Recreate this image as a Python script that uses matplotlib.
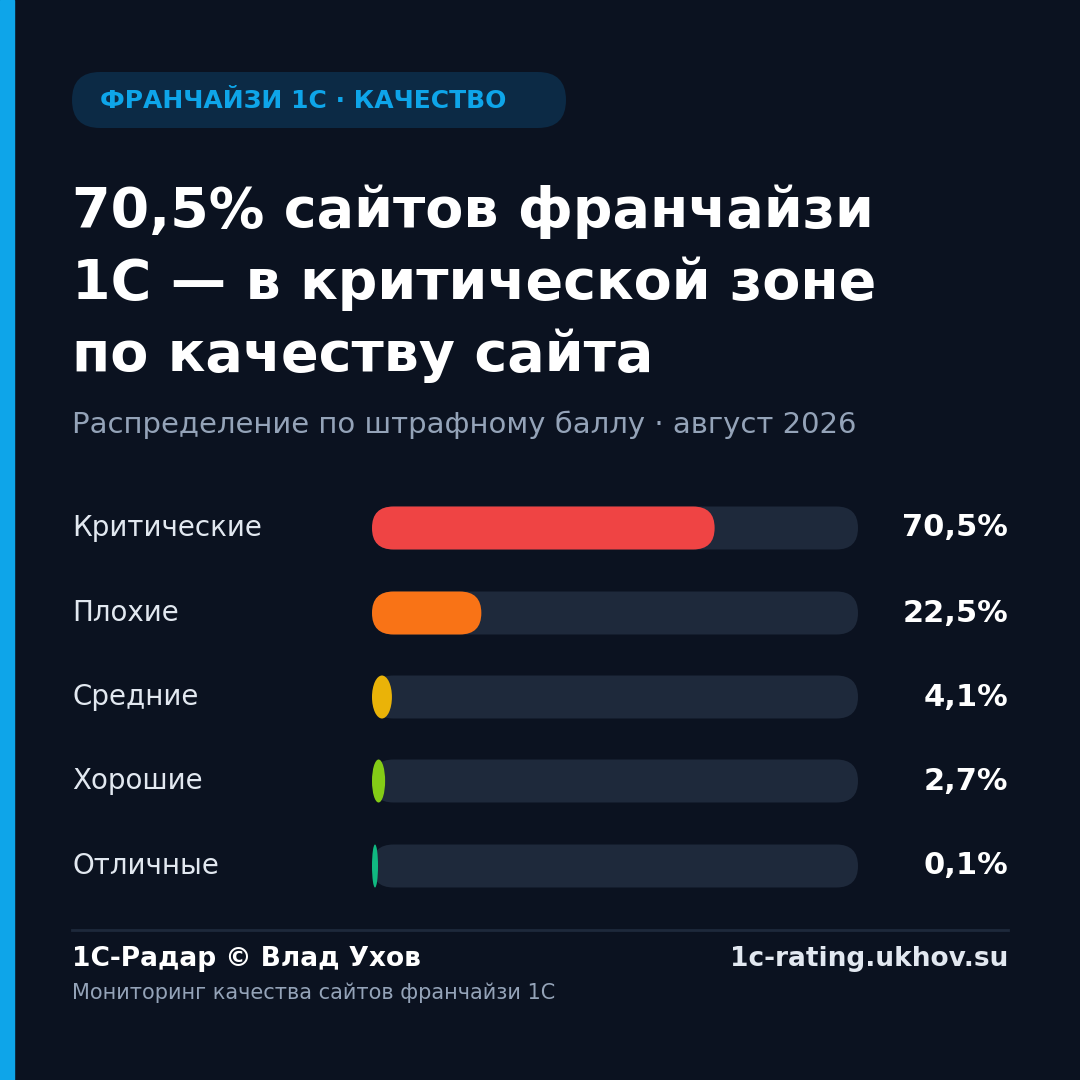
import matplotlib
matplotlib.use("Agg")
import matplotlib.pyplot as plt
from matplotlib.patches import FancyBboxPatch, Ellipse, Rectangle

categories = ["Критические", "Плохие", "Средние", "Хорошие", "Отличные"]
values = [70.5, 22.5, 4.1, 2.7, 0.1]
value_labels = ["70,5%", "22,5%", "4,1%", "2,7%", "0,1%"]
colors = ["#ef4444", "#f97316", "#eab308", "#84cc16", "#10b981"]

bg = "#0b1220"
fig = plt.figure(figsize=(10.8, 10.8), dpi=100, facecolor=bg)
ax = fig.add_axes([0, 0, 1, 1])
ax.set_xlim(0, 1080)
ax.set_ylim(1080, 0)
ax.set_aspect("equal")
ax.axis("off")
ax.set_facecolor(bg)
plt.rcParams["font.family"] = ["DejaVu Sans"]

# left accent stripe
ax.add_patch(Rectangle((0, 0), 14, 1080, color="#0ea5e9"))

# badge
ax.add_patch(FancyBboxPatch((72, 72), 494, 56, boxstyle="round,pad=0,rounding_size=28",
                            color="#0c2a45", lw=0))
ax.text(100, 101, "ФРАНЧАЙЗИ 1С · КАЧЕСТВО", color="#0ea5e9", fontsize=18,
        fontweight="bold", va="center")

# title
for i, line in enumerate(["70,5% сайтов франчайзи", "1С — в критической зоне",
                          "по качеству сайта"]):
    ax.text(72, 212 + i * 72, line, color="white", fontsize=40, fontweight="bold",
            va="center")
ax.text(72, 425, "Распределение по штрафному баллу · август 2026", color="#94a3b8",
        fontsize=21, va="center")

# bars
x0, track_w, h = 372, 486, 43
ys = [528, 613, 697, 781, 866]
for cat, v, lab, c, y in zip(categories, values, value_labels, colors, ys):
    ax.text(72, y, cat, color="#e2e8f0", fontsize=20, va="center")
    ax.add_patch(FancyBboxPatch((x0, y - h / 2), track_w, h,
                                boxstyle="round,pad=0,rounding_size=21.5",
                                color="#1e293b", lw=0))
    w = track_w * v / 100
    if w >= h:
        ax.add_patch(FancyBboxPatch((x0, y - h / 2), w, h,
                                    boxstyle="round,pad=0,rounding_size=21.5",
                                    color=c, lw=0))
    else:
        ew = max(w, 6)
        ax.add_patch(Ellipse((x0 + ew / 2, y), ew, h, color=c, lw=0))
    ax.text(1008, y, lab, color="white", fontsize=22, fontweight="bold",
            va="center", ha="right")

# footer
ax.plot([72, 1008], [930, 930], color="#1e293b", lw=2)
ax.text(72, 959, "1С-Радар © Влад Ухов", color="white", fontsize=19,
        fontweight="bold", va="center")
ax.text(1008, 959, "1c-rating.ukhov.su", color="#e2e8f0", fontsize=19,
        fontweight="bold", va="center", ha="right")
ax.text(72, 993, "Мониторинг качества сайтов франчайзи 1С", color="#94a3b8",
        fontsize=15, va="center")

fig.savefig("out.png", dpi=100, facecolor=bg)
